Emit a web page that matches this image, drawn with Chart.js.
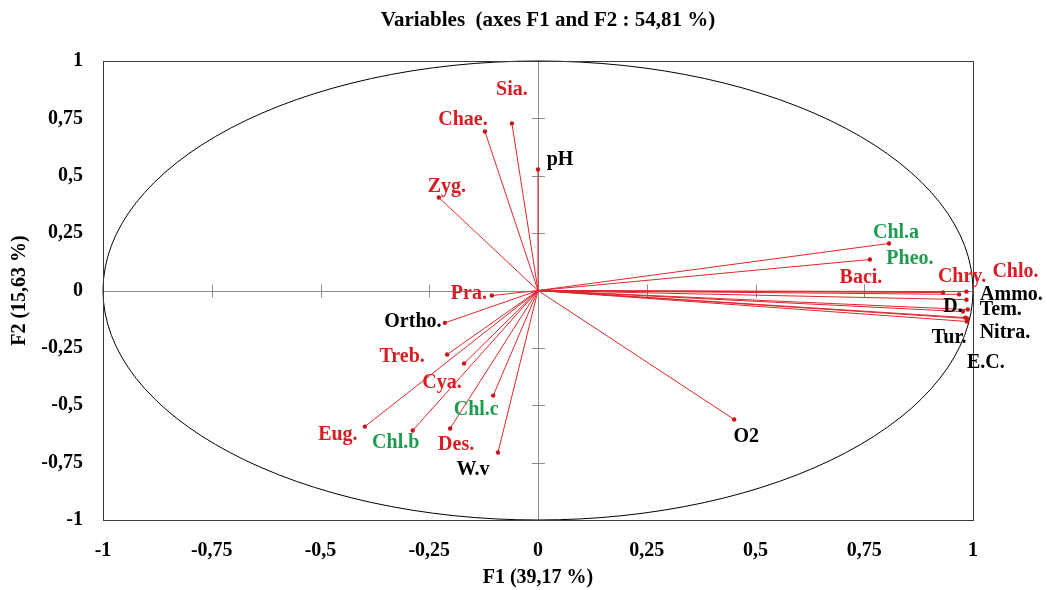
<!DOCTYPE html>
<html>
<head>
<meta charset="utf-8">
<script src="https://cdn.jsdelivr.net/npm/chart.js@4.4.1/dist/chart.umd.min.js"></script>
<style>
  html, body { margin: 0; padding: 0; background: #fff; }
</style>
</head>
<body>
<canvas id="myChart" width="1047" height="590"></canvas>
<script>
// variable names and their coordinates on F1 / F2
const names = ['Sia.', 'Chae.', 'pH', 'Zyg.', 'Pra.', 'Ortho.', 'Treb.', 'Cya.', 'Chl.c',
               'Eug.', 'Chl.b', 'Des.', 'W.v', 'O2', 'Chl.a', 'Pheo.', 'Baci.', 'Chry.',
               'Chlo.', 'Ammo.', 'D.', 'Tem.', 'Nitra.', 'Tur.', 'E.C.'];
const f1 = [-0.060, -0.122, 0.000, -0.228, -0.106, -0.214, -0.209, -0.170, -0.103,
            -0.398, -0.288, -0.202, -0.092, 0.451, 0.807, 0.763, 0.931, 0.968,
            0.985, 0.985, 0.977, 0.988, 0.986, 0.982, 0.986];
const f2 = [0.728, 0.693, 0.527, 0.405, -0.022, -0.141, -0.279, -0.318, -0.458,
            -0.593, -0.610, -0.601, -0.706, -0.562, 0.205, 0.135, -0.009, -0.017,
            -0.005, -0.040, -0.092, -0.083, -0.122, -0.118, -0.135];
// label colour group: r = red, g = green, k = black
const groups = ['r', 'r', 'k', 'r', 'r', 'k', 'r', 'r', 'g',
                'r', 'g', 'r', 'k', 'k', 'g', 'g', 'r', 'r',
                'r', 'k', 'k', 'k', 'k', 'k', 'k'];
const tickValues = [-1, -0.75, -0.5, -0.25, 0, 0.25, 0.5, 0.75, 1];

// label placement (pixels from the arrow tip)
const labelDx = [0, -22, 22, 8, -23, -32, -45, -22, -17,
                 -27, -17, 6, -25, 12, 7, 40, -82, 3,
                 49, 45, -10, 33, 38, -16, 19];
const labelDy = [-34, -12, -10, -11, -2, -1, 2, 19, 14,
                 8, 12, 16, 17, 17, -11, -1, -15, -18,
                 -20, -5, -5, 0, 14, 20, 41];

const colors = {r: '#d91c22', g: '#1c9d4e', k: '#000000'};
const lineRed = '#e0262c';
const serif = '"Liberation Serif", "Times New Roman", serif';

const fmt = (v) => String(Math.round(v * 100) / 100).replace('.', ',');

const datasets = names.map((n, i) => ({
    label: n,
    data: [{x: 0, y: 0}, {x: f1[i], y: f2[i]}],
    showLine: true,
    borderColor: lineRed,
    borderWidth: 1,
    pointRadius: [0, 2.2],
    pointBackgroundColor: '#c8141a',
    pointBorderWidth: 0
}));

/////////////////////////////
// circle, frame, axes     //
/////////////////////////////
const backdrop = {
    id: 'backdrop',
    beforeDatasetsDraw(chart) {
        const {ctx, chartArea: a, scales: {x, y}} = chart;
        const cx = x.getPixelForValue(0), cy = y.getPixelForValue(0);
        ctx.save();

        // axes through the origin
        ctx.strokeStyle = '#8c8c8c';
        ctx.lineWidth = 1;
        ctx.beginPath();
        ctx.moveTo(a.left, Math.round(cy) + 0.5);
        ctx.lineTo(a.right, Math.round(cy) + 0.5);
        ctx.moveTo(Math.round(cx) + 0.5, a.top);
        ctx.lineTo(Math.round(cx) + 0.5, a.bottom);
        x.ticks.forEach(t => {
            if (Math.abs(t.value) === 1 || t.value === 0) return;
            const px = Math.round(x.getPixelForValue(t.value)) + 0.5;
            ctx.moveTo(px, cy - 6);
            ctx.lineTo(px, cy + 7);
        });
        y.ticks.forEach(t => {
            if (Math.abs(t.value) === 1 || t.value === 0) return;
            const py = Math.round(y.getPixelForValue(t.value)) + 0.5;
            ctx.moveTo(cx - 6, py);
            ctx.lineTo(cx + 7, py);
        });
        ctx.stroke();

        // correlation circle
        ctx.strokeStyle = '#000';
        ctx.beginPath();
        ctx.ellipse(cx, cy, x.getPixelForValue(1) - cx, cy - y.getPixelForValue(1), 0, 0, Math.PI * 2);
        ctx.stroke();

        // frame
        ctx.strokeStyle = '#3a3a3a';
        ctx.strokeRect(Math.round(a.left) + 0.5, Math.round(a.top) + 0.5,
                       Math.round(a.right - a.left), Math.round(a.bottom - a.top));
        ctx.restore();
    }
};

/////////////////////////////
// labels + title          //
/////////////////////////////
const labels = {
    id: 'labels',
    afterDatasetsDraw(chart) {
        const {ctx, scales: {x, y}} = chart;
        ctx.save();
        ctx.font = 'bold 20px ' + serif;
        ctx.textAlign = 'center';
        ctx.textBaseline = 'middle';
        names.forEach((n, i) => {
            ctx.fillStyle = colors[groups[i]];
            ctx.fillText(n, x.getPixelForValue(f1[i]) + labelDx[i], y.getPixelForValue(f2[i]) + labelDy[i]);
        });
        ctx.fillStyle = '#000';
        ctx.font = 'bold 21px ' + serif;
        ctx.fillText('Variables  (axes F1 and F2 : 54,81 %)', 548, 21);
        ctx.restore();
    }
};

const tickFont = {family: serif, size: 20, weight: 'bold'};

new Chart('myChart', {
    type: 'scatter',
    data: {datasets: datasets},
    options: {
        responsive: false,
        animation: false,
        layout: {padding: {top: 61, right: 74, left: 0, bottom: 0}},
        plugins: {legend: {display: false}, tooltip: {enabled: false}},
        scales: {
            x: {
                type: 'linear', min: -1, max: 1,
                afterBuildTicks: (s) => { s.ticks = tickValues.map(v => ({value: v})); },
                afterFit: (s) => { s.height = 70; },
                grid: {display: false},
                border: {display: false},
                ticks: {callback: fmt, font: tickFont, color: '#000', padding: 11},
                title: {display: true, text: 'F1 (39,17 %)', font: tickFont, color: '#000',
                        padding: {top: 0, bottom: 0}}
            },
            y: {
                type: 'linear', min: -1, max: 1,
                afterBuildTicks: (s) => { s.ticks = tickValues.map(v => ({value: v})); },
                afterFit: (s) => { s.width = 103; },
                grid: {display: false},
                border: {display: false},
                ticks: {callback: fmt, font: tickFont, color: '#000', padding: 12},
                title: {display: true, text: 'F2 (15,63 %)', font: tickFont, color: '#000',
                        padding: {top: 8, bottom: 0}}
            }
        }
    },
    plugins: [backdrop, labels]
});
</script>
</body>
</html>
